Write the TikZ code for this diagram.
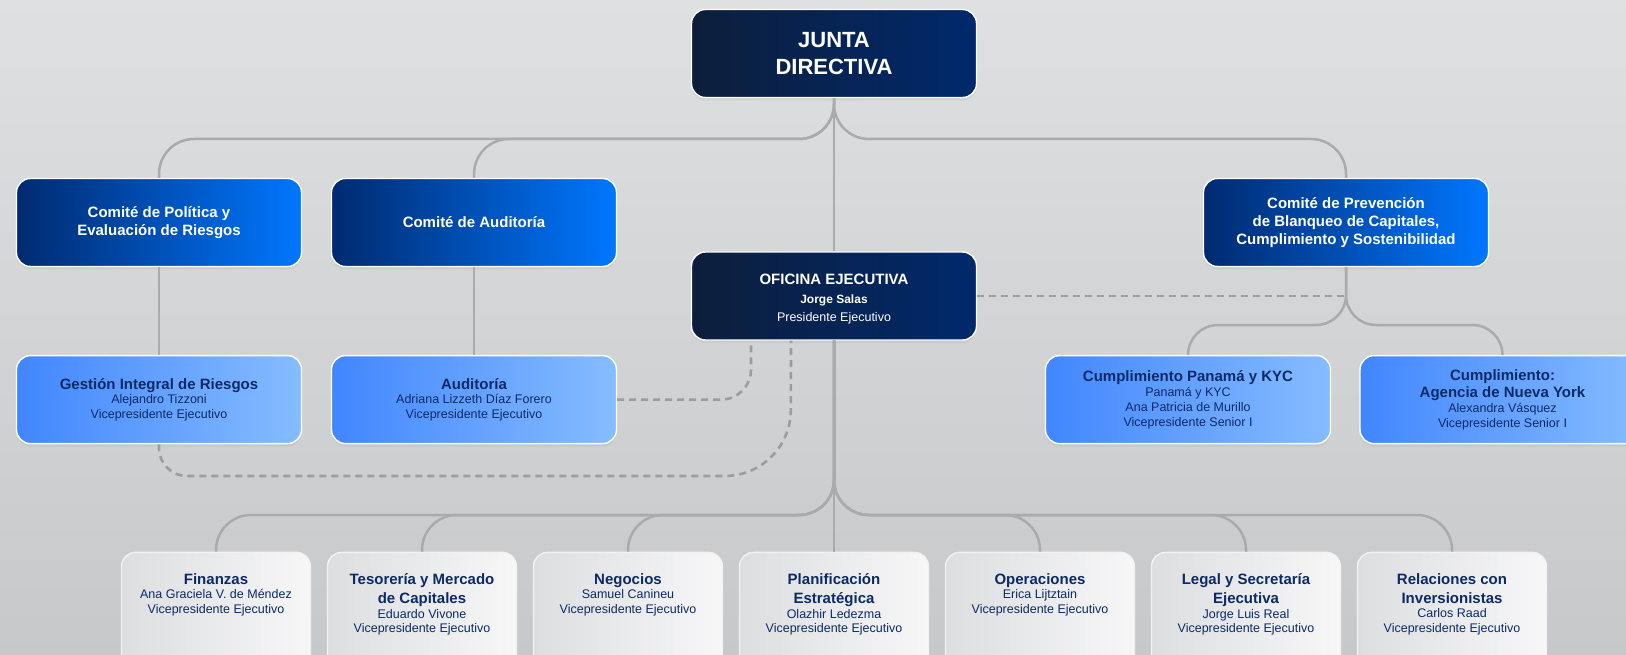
\documentclass[tikz,border=0pt]{standalone}
\usepackage{fontspec}
\setmainfont{Liberation Sans}
\usepackage{xcolor}
\usepackage{tikz}
\usetikzlibrary{calc}
\usetikzlibrary{positioning}
\usetikzlibrary{shadows}

\definecolor{navyA}{HTML}{0D1E3C}
\definecolor{navyB}{HTML}{00296C}
\definecolor{blueA}{HTML}{002A70}
\definecolor{blueM}{HTML}{0050C4}
\definecolor{blueB}{HTML}{0077FF}
\definecolor{skyA}{HTML}{4186FF}
\definecolor{skyB}{HTML}{86BCFF}
\definecolor{vpA}{HTML}{DDDEE0}
\definecolor{vpB}{HTML}{F7F7F8}
\definecolor{ink}{HTML}{0B2A66}
\definecolor{wire}{HTML}{ABABAB}
\definecolor{bgA}{HTML}{DFE0E2}
\definecolor{bgB}{HTML}{C7C8CA}

\newcommand{\boxhead}[1]{{\bfseries\fontsize{15}{17}\selectfont #1}}

\tikzstyle{box} = [rectangle, rounded corners=14pt, minimum width=285pt, minimum height=88pt, align=center, inner sep=0pt, draw=white, line width=1.4pt, drop shadow={opacity=0.10, shadow xshift=0pt, shadow yshift=-3pt}]
\tikzstyle{dir} = [box, left color=navyA, right color=navyB, text=white]
\tikzstyle{com} = [box, left color=blueA, middle color=blueM, right color=blueB, text=white, font=\bfseries\fontsize{15}{18}\selectfont]
\tikzstyle{area} = [box, left color=skyA, right color=skyB, text=ink, font=\fontsize{12.5}{14.8}\selectfont]
\tikzstyle{vp} = [box, minimum width=189pt, anchor=north, inner ysep=20.9pt, text depth=80pt, draw=white!90!gray, left color=vpA, right color=vpB, text=ink, font=\fontsize{12.5}{14.8}\selectfont]
\tikzstyle{bus} = [-, draw=wire, line width=2.5pt, rounded corners=35pt]
\tikzstyle{link} = [-, draw=wire!92!black, line width=2.6pt, dash pattern=on 7pt off 5pt]

\begin{document}
\begin{tikzpicture}[x=1pt, y=-1pt]
\useasboundingbox (0,0) rectangle (1626,655);
\clip (0,0) rectangle (1626,655);
\shade[top color=bgA, bottom color=bgB] (0,0) rectangle (1626,655);

\node [dir, font=\bfseries\fontsize{22}{27.7}\selectfont] (JD) at (834,53.5) {JUNTA\\DIRECTIVA};

\node [com] (CP) at (159,222.5) {Comité de Política y\\Evaluación de Riesgos};
\node [com] (CA) at (474,222.5) {Comité de Auditoría};
\node [com] (CB) at (1346,222.5) {Comité de Prevención\\de Blanqueo de Capitales,\\Cumplimiento y Sostenibilidad};

\node [dir, text height=53.5pt, font=\fontsize{12.5}{18.3}\selectfont] (OE) at (834,296) {\boxhead{OFICINA EJECUTIVA}\\{\bfseries\fontsize{12}{14}\selectfont Jorge Salas}\\Presidente Ejecutivo};

\node [area] (GR) at (159,399.6) {\boxhead{Gestión Integral de Riesgos}\\Alejandro Tizzoni\\Vicepresidente Ejecutivo};
\node [area] (AU) at (474,399.6) {\boxhead{Auditoría}\\Adriana Lizzeth Díaz Forero\\Vicepresidente Ejecutivo};
\node [area] (KP) at (1188,399.6) {\boxhead{Cumplimiento Panamá y KYC}\\Panamá y KYC\\Ana Patricia de Murillo\\Vicepresidente Senior I};
\node [area] (NY) at (1502.5,399.6) {\boxhead{Cumplimiento:}\\[3pt]\boxhead{Agencia de Nueva York}\\Alexandra Vásquez\\Vicepresidente Senior I};

\node [vp] (FIN) at (216,551.7) {\boxhead{Finanzas}\\Ana Graciela V. de Méndez\\Vicepresidente Ejecutivo};
\node [vp] (TES) at (422,551.7) {\boxhead{Tesorería y Mercado}\\[4.2pt]\boxhead{de Capitales}\\Eduardo Vivone\\Vicepresidente Ejecutivo};
\node [vp] (NEG) at (628,551.7) {\boxhead{Negocios}\\Samuel Canineu\\Vicepresidente Ejecutivo};
\node [vp] (PLA) at (834,551.7) {\boxhead{Planificación}\\[4.2pt]\boxhead{Estratégica}\\Olazhir Ledezma\\Vicepresidente Ejecutivo};
\node [vp] (OPE) at (1040,551.7) {\boxhead{Operaciones}\\Erica Lijtztain\\Vicepresidente Ejecutivo};
\node [vp] (LEG) at (1246,551.7) {\boxhead{Legal y Secretaría}\\[4.2pt]\boxhead{Ejecutiva}\\Jorge Luis Real\\Vicepresidente Ejecutivo};
\node [vp] (REL) at (1452,551.7) {\boxhead{Relaciones con}\\[4.2pt]\boxhead{Inversionistas}\\Carlos Raad\\Vicepresidente Ejecutivo};

\coordinate (TB) at (834,139);
\coordinate (SB) at (1346,325);
\coordinate (BB) at (834,515);
\coordinate (DB) at (790.7,476);

\draw [bus] (JD.south) -- (OE.north);
\draw [bus] (JD.south) |- (CP.north |- TB) -- (CP.north);
\draw [bus] (JD.south) |- (CA.north |- TB) -- (CA.north);
\draw [bus] (JD.south) |- (CB.north |- TB) -- (CB.north);
\draw [bus] (CP.south) -- (GR.north);
\draw [bus] (CA.south) -- (AU.north);
\draw [bus, rounded corners=30pt] (CB.south) |- (KP.north |- SB) -- (KP.north);
\draw [bus, rounded corners=30pt] (CB.south) |- (NY.north |- SB) -- (NY.north);

\draw [bus] (OE.south) -- (PLA.north);
\draw [bus] (OE.south) |- (FIN.north |- BB) -- (FIN.north);
\draw [bus] (OE.south) |- (TES.north |- BB) -- (TES.north);
\draw [bus] (OE.south) |- (NEG.north |- BB) -- (NEG.north);
\draw [bus] (OE.south) |- (OPE.north |- BB) -- (OPE.north);
\draw [bus] (OE.south) |- (LEG.north |- BB) -- (LEG.north);
\draw [bus] (OE.south) |- (REL.north |- BB) -- (REL.north);

%\draw [link] (OE.east) -- (CB.south);
\draw [link] (OE.east) -- (OE.east -| CB.south);
\draw [link, rounded corners=30pt] (AU.east) -| ($(OE.south)+(-83,0)$);
\draw [link, rounded corners=28pt] (GR.south) -- (GR.south |- DB) [rounded corners=66pt] -- (DB) -- ($(OE.south)+(-43,0)$);
\end{tikzpicture}
\end{document}
